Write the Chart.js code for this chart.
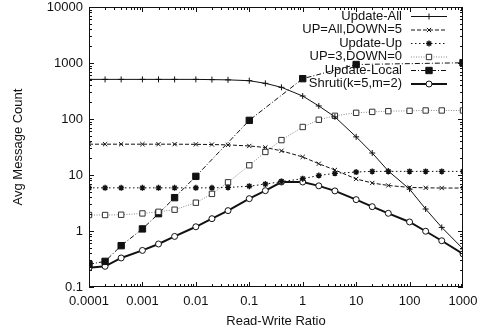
<!DOCTYPE html>
<html lang="en">
<head>
    <meta charset="UTF-8">
    <title>Avg Message Count vs Read-Write Ratio</title>
    <script src="https://cdn.jsdelivr.net/npm/chart.js"></script>
    <style>
        body {
            margin: 0;
            padding: 0;
            background: #fff;
        }
        .chart-box {
            width: 483px;
            height: 332px;
        }
    </style>
</head>
<body>
    <div class="chart-box">
        <canvas id="msgChart" width="483" height="332"></canvas>
    </div>

    <script>
        // Read-write ratios sampled in the experiment
        const ratios = [0.0001, 0.0002, 0.0004, 0.001, 0.002, 0.004, 0.01, 0.02, 0.04, 0.1, 0.2, 0.4,
                        1, 2, 4, 10, 20, 40, 100, 200, 400, 1000];
        // Update-Local only has some of those samples
        const localRatios = [0.0001, 0.0002, 0.0004, 0.001, 0.002, 0.004, 0.01, 0.1, 1, 10, 1000];

        const updateAll   = [510, 510, 510, 510, 510, 510, 510, 505, 500, 483, 433, 368,
                             257, 171, 109, 48, 24.7, 11.8, 5.6, 2.47, 1.16, 0.48];
        const upAllDown5  = [35.5, 35.5, 35.5, 35.5, 35.5, 35.5, 35.3, 35, 34.5, 33, 31, 27,
                             21, 15.9, 12.3, 8.5, 7.2, 6.5, 6.0, 5.9, 5.85, 5.85];
        const updateUp    = [5.9, 5.9, 5.9, 5.9, 5.9, 5.9, 5.9, 5.9, 6.0, 6.3, 6.9, 7.6,
                             8.6, 9.8, 10.7, 11.3, 11.6, 11.6, 11.6, 11.6, 11.6, 11.6];
        const up3Down0    = [1.93, 1.93, 1.95, 2.06, 2.2, 2.4, 3.2, 4.6, 7.4, 14.9, 25.8, 42,
                             72, 97, 114, 129, 134, 138, 140, 142, 142, 142];
        const updateLocal = [0.254, 0.287, 0.547, 1.09, 2.04, 3.94, 9.46, 94.6, 525, 940, 1010];
        const shruti      = [0.221, 0.234, 0.33, 0.45, 0.586, 0.80, 1.19, 1.66, 2.31, 3.78, 5.25, 7.5,
                             7.5, 6.4, 5.2, 3.63, 2.72, 2.07, 1.45, 0.99, 0.67, 0.39];

        const xTicks = [0.0001, 0.001, 0.01, 0.1, 1, 10, 100, 1000];
        const yTicks = [0.1, 1, 10, 100, 1000, 10000];

        const seriesNames = ['Update-All', 'UP=All,DOWN=5', 'Update-Up', 'UP=3,DOWN=0', 'Update-Local', 'Shruti(k=5,m=2)'];

        const FONT = 'Liberation Sans, Arial, Helvetica, sans-serif';

        function pairs(xs, ys) {
            return ys.map((y, i) => ({ x: xs[i], y: y }));
        }

        function series(label, data, style) {
            return Object.assign({
                label: label,
                data: data,
                borderColor: '#111',
                backgroundColor: '#111',
                pointBorderColor: '#111',
                borderWidth: 1,
                pointBorderWidth: 1,
                tension: 0,
                fill: false
            }, style);
        }

        const datasets = [
            series(seriesNames[0], pairs(ratios, updateAll), {
                pointStyle: 'cross', pointRadius: 3
            }),
            series(seriesNames[1], pairs(ratios, upAllDown5), {
                borderDash: [4, 2], pointStyle: 'crossRot', pointRadius: 3
            }),
            series(seriesNames[2], pairs(ratios, updateUp), {
                borderDash: [1.5, 2.5], pointStyle: 'star', pointRadius: 3, pointBorderWidth: 1.4
            }),
            series(seriesNames[3], pairs(ratios, up3Down0), {
                borderColor: '#888', borderDash: [1, 1.5], pointStyle: 'rect', pointRadius: 3.8,
                backgroundColor: '#fff', pointBorderColor: '#333'
            }),
            series(seriesNames[4], pairs(localRatios, updateLocal), {
                borderDash: [5, 2, 1, 2], pointStyle: 'rect', pointRadius: 4.5
            }),
            series(seriesNames[5], pairs(ratios, shruti), {
                borderWidth: 2, pointStyle: 'circle', pointRadius: 3,
                backgroundColor: '#fff', pointBorderColor: '#111'
            })
        ];

        // gnuplot-style frame with inward ticks on all four sides
        const framePlugin = {
            id: 'frame',
            afterDatasetsDraw(chart) {
                const ctx = chart.ctx;
                const a = chart.chartArea;
                const xs = chart.scales.x;
                const ys = chart.scales.y;
                ctx.save();
                ctx.strokeStyle = '#111';
                ctx.lineWidth = 1;
                ctx.setLineDash([]);
                ctx.strokeRect(a.left + 0.5, a.top + 0.5, a.right - a.left - 1, a.bottom - a.top - 1);
                ctx.beginPath();
                const decadesX = [-4, -3, -2, -1, 0, 1, 2];
                decadesX.forEach(d => {
                    for (let m = 1; m < 10; m++) {
                        const v = m * Math.pow(10, d);
                        const px = Math.round(xs.getPixelForValue(v)) + 0.5;
                        const len = m === 1 ? 5 : 3;
                        ctx.moveTo(px, a.bottom); ctx.lineTo(px, a.bottom - len);
                        ctx.moveTo(px, a.top); ctx.lineTo(px, a.top + len);
                    }
                });
                const decadesY = [-1, 0, 1, 2, 3];
                decadesY.forEach(d => {
                    for (let m = 1; m < 10; m++) {
                        const v = m * Math.pow(10, d);
                        const py = Math.round(ys.getPixelForValue(v)) + 0.5;
                        const len = m === 1 ? 5 : 3;
                        ctx.moveTo(a.left, py); ctx.lineTo(a.left + len, py);
                        ctx.moveTo(a.right, py); ctx.lineTo(a.right - len, py);
                    }
                });
                ctx.stroke();
                ctx.restore();
            }
        };

        // key in the top-right corner: text right-aligned, sample on its right
        const keyPlugin = {
            id: 'key',
            afterDraw(chart) {
                const ctx = chart.ctx;
                ctx.save();
                ctx.font = '13px ' + FONT;
                ctx.textAlign = 'right';
                ctx.textBaseline = 'middle';
                chart.data.datasets.forEach((ds, i) => {
                    const y = 16 + i * 13.5;
                    ctx.fillStyle = '#111';
                    ctx.fillText(ds.label, 402, y);
                    ctx.strokeStyle = ds.borderColor;
                    ctx.lineWidth = ds.borderWidth;
                    ctx.setLineDash(ds.borderDash || []);
                    ctx.beginPath();
                    ctx.moveTo(411, y + 0.5);
                    ctx.lineTo(447, y + 0.5);
                    ctx.stroke();
                    ctx.setLineDash([]);
                    ctx.strokeStyle = ds.pointBorderColor;
                    ctx.fillStyle = ds.backgroundColor;
                    ctx.lineWidth = ds.pointBorderWidth;
                    Chart.helpers.drawPoint(ctx, {
                        pointStyle: ds.pointStyle,
                        radius: ds.pointRadius,
                        rotation: 0,
                        borderWidth: ds.pointBorderWidth
                    }, 429, y + 0.5);
                });
                ctx.restore();
            }
        };

        new Chart(document.getElementById('msgChart'), {
            type: 'line',
            data: { datasets: datasets },
            options: {
                responsive: false,
                animation: false,
                layout: { padding: { top: 7, right: 20, left: 0, bottom: 0 } },
                plugins: {
                    legend: { display: false },
                    tooltip: { enabled: false }
                },
                scales: {
                    x: {
                        type: 'logarithmic',
                        min: 0.0001,
                        max: 1000,
                        grid: { display: false, drawTicks: false },
                        border: { display: false },
                        afterBuildTicks: s => { s.ticks = xTicks.map(v => ({ value: v, major: true })); },
                        afterFit: s => { s.height = 45; s.paddingLeft = 0; s.paddingRight = 0; },
                        ticks: {
                            padding: 7,
                            maxRotation: 0,
                            autoSkip: false,
                            color: '#111',
                            font: { family: FONT, size: 13 },
                            callback: v => String(v)
                        },
                        title: {
                            display: true,
                            text: 'Read-Write Ratio',
                            color: '#111',
                            font: { family: FONT, size: 13 },
                            padding: { top: 0, bottom: 3 }
                        }
                    },
                    y: {
                        type: 'logarithmic',
                        min: 0.1,
                        max: 10000,
                        grid: { display: false, drawTicks: false },
                        border: { display: false },
                        afterBuildTicks: s => { s.ticks = yTicks.map(v => ({ value: v, major: true })); },
                        afterFit: s => { s.width = 89; s.paddingTop = 0; s.paddingBottom = 0; },
                        ticks: {
                            padding: 6,
                            autoSkip: false,
                            color: '#111',
                            font: { family: FONT, size: 13 },
                            callback: v => String(v)
                        },
                        title: {
                            display: true,
                            text: 'Avg Message Count',
                            color: '#111',
                            font: { family: FONT, size: 13 },
                            padding: { top: 11, bottom: 0 }
                        }
                    }
                }
            },
            plugins: [framePlugin, keyPlugin]
        });
    </script>
</body>
</html>
